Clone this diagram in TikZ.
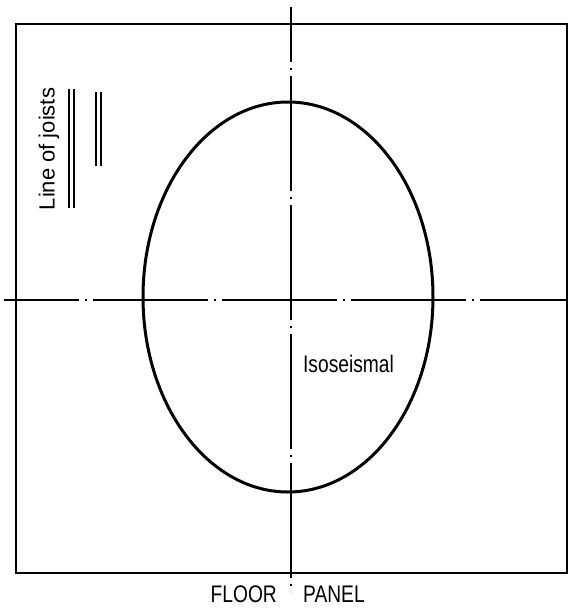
\documentclass[tikz,border=0pt]{standalone}
\usepackage{fontspec}
\setmainfont{Liberation Sans}
\usetikzlibrary{positioning}

\begin{document}
\begin{tikzpicture}[x=1pt, y=-1pt,
  panel/.style={draw, line width=2.6pt},
  isoline/.style={draw, line width=3pt},
  axis/.style={line width=1.3pt, dash pattern=on 115pt off 6pt on 2pt off 6pt},
  joist/.style={line width=1.4pt},
  lbl/.style={font=\fontsize{24}{26}\selectfont, inner sep=0pt, xscale=0.8},
]
\useasboundingbox (0,0) rectangle (571,611);

% --- Floor panel ---
\draw[panel] (16,24) rectangle (567,573);

% --- Centre lines ---
\coordinate (vtop) at (291,7);
\coordinate (vbot) at (291,592);
\coordinate (hleft) at (4,300);
\coordinate (hright) at (567,300);
\draw[axis, dash phase=60pt] (vtop) -- (vbot);
\draw[axis, dash phase=40pt] (hleft) -- (hright);

% --- Isoseismal ---
\draw[isoline] (288,297) ellipse [x radius=145, y radius=195];
\node[lbl, anchor=west] (iso) at (303,364) {Isoseismal};

% --- Line of joists ---
\node[font=\fontsize{22}{24}\selectfont, inner sep=0pt, rotate=90] (joists) at (49,149) {Line of joists};
\draw[joist] (69,89) -- (69,208);
\draw[joist] (74,89) -- (74,208);
\draw[joist] (96,92) -- (96,166);
\draw[joist] (101,92) -- (101,166);

% --- Caption ---
\node[lbl, anchor=east] (floor) at (277,594) {FLOOR};
\node[lbl, anchor=west] (panel) at (303,594) {PANEL};
\end{tikzpicture}
\end{document}
